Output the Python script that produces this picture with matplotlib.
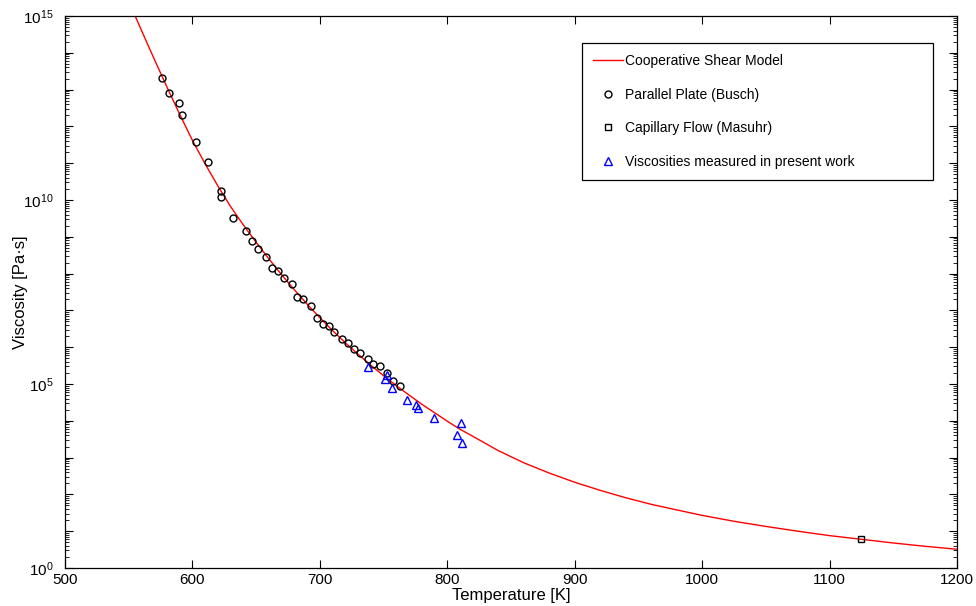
import numpy as np
import matplotlib
matplotlib.use("Agg")
import matplotlib.pyplot as plt
from matplotlib.ticker import LogLocator, FuncFormatter, MultipleLocator, NullFormatter

plt.rcParams["font.family"] = ["Liberation Sans", "DejaVu Sans"]
plt.rcParams["mathtext.fontset"] = "custom"
plt.rcParams["mathtext.rm"] = "Liberation Sans"

# cooperative shear model curve (T in K, log10 viscosity)
model_T = [550, 560, 570, 580, 590, 600, 610, 620, 630, 640, 650, 660, 670, 680,
           690, 700, 710, 720, 730, 740, 750, 760, 770, 780, 790, 800, 810, 820,
           840, 860, 880, 900, 920, 940, 960, 980, 1000, 1025, 1050, 1075, 1100,
           1125, 1150, 1175, 1200]
model_logeta = [15.40, 14.61, 13.83, 13.07, 12.33, 11.62, 10.98, 10.38, 9.82,
                9.32, 8.85, 8.40, 7.97, 7.56, 7.17, 6.80, 6.45, 6.12, 5.81, 5.51,
                5.225, 4.955, 4.70, 4.45, 4.22, 3.99, 3.77, 3.58, 3.19, 2.86,
                2.58, 2.33, 2.11, 1.91, 1.73, 1.58, 1.43, 1.27, 1.13, 1.00, 0.88,
                0.78, 0.68, 0.59, 0.51]

# parallel plate (Busch)
busch_T = [575.9, 581.9, 589.5, 592.1, 602.6, 612.5, 622.4, 622.2, 632.1, 641.8,
           647.0, 651.7, 657.5, 662.2, 667.4, 672.1, 677.9, 682.3, 687.0, 692.8,
           697.5, 702.7, 707.4, 711.3, 717.1, 721.8, 727.0, 731.9, 737.4, 741.9,
           747.2, 752.5, 757.2, 762.9]
busch_logeta = [13.31, 12.92, 12.63, 12.30, 11.58, 11.04, 10.25, 10.07, 9.50, 9.16,
                8.89, 8.66, 8.46, 8.16, 8.08, 7.87, 7.72, 7.36, 7.30, 7.12,
                6.80, 6.62, 6.58, 6.42, 6.21, 6.11, 5.94, 5.83, 5.67, 5.54,
                5.50, 5.29, 5.09, 4.95]

# capillary flow (Masuhr)
masuhr_T = [1124.4]
masuhr_logeta = [0.78]

# present work
present_T = [738.0, 752.5, 751.1, 756.8, 768.6, 775.8, 777.0, 789.6, 810.5, 807.9, 811.3]
present_logeta = [5.47, 5.24, 5.13, 4.90, 4.56, 4.42, 4.36, 4.07, 3.93, 3.61, 3.39]

fig = plt.figure(figsize=(9.76, 6.06), dpi=100)
ax = fig.add_axes([0.0666, 0.0627, 0.9139, 0.9109])

ax.plot(model_T, 10.0 ** np.array(model_logeta), "-", color="red", lw=1.0,
        label="Cooperative Shear Model")
ax.plot(busch_T, 10.0 ** np.array(busch_logeta), "o", mfc="none", mec="black",
        ms=5, mew=1.0, ls="none", label="Parallel Plate (Busch)")
ax.plot(masuhr_T, 10.0 ** np.array(masuhr_logeta), "s", mfc="none", mec="black",
        ms=4.5, mew=1.0, ls="none", label="Capillary Flow (Masuhr)")
ax.plot(present_T, 10.0 ** np.array(present_logeta), "^", mfc="none", mec="blue",
        ms=5.5, mew=1.0, ls="none", label="Viscosities measured in present work")

ax.set_yscale("log")
ax.set_xlim(500, 1200)
ax.set_ylim(1e0, 1e15)

ax.xaxis.set_major_locator(MultipleLocator(100))
ax.yaxis.set_major_locator(LogLocator(base=10, numticks=30))
ax.yaxis.set_minor_locator(LogLocator(base=10, subs=np.arange(2, 10), numticks=30))
ax.yaxis.set_minor_formatter(NullFormatter())


def fmt(v, pos):
    e = int(round(np.log10(v)))
    if e % 5 == 0:
        return r"$\mathregular{10^{%d}}$" % e
    return ""


ax.yaxis.set_major_formatter(FuncFormatter(fmt))
ax.tick_params(which="both", direction="in", top=True, right=True, labelsize=11)
ax.tick_params(which="major", length=6, width=0.8)
ax.tick_params(axis="y", which="major", pad=8)
ax.tick_params(which="minor", length=3, width=0.6)
for s in ax.spines.values():
    s.set_linewidth(0.9)

ax.set_xlabel("Temperature [K]", fontsize=12, labelpad=1)
ax.set_ylabel("Viscosity [Pa·s]", fontsize=12, labelpad=-3)

leg = ax.legend(loc="upper left", bbox_to_anchor=(0.580, 0.70, 0.393, 0.2516),
                mode="expand", fontsize=10, frameon=True, fancybox=False,
                framealpha=1, edgecolor="black", labelspacing=1.42,
                handlelength=2.1, handletextpad=0.2, borderpad=0.8,
                borderaxespad=0)
leg.get_frame().set_linewidth(0.9)

fig.savefig("out.png", dpi=100)
